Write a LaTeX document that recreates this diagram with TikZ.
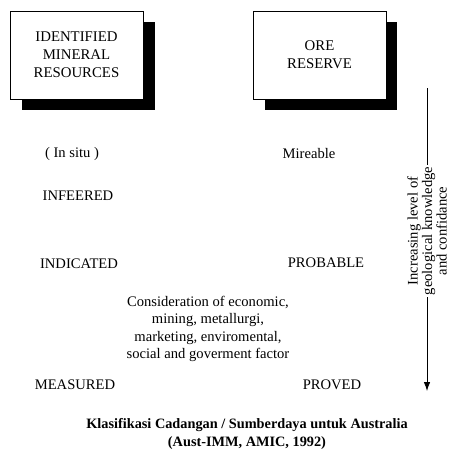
\documentclass[tikz,border=0pt]{standalone}
\usepackage{fontspec}
\setmainfont{Liberation Serif}
\usetikzlibrary{arrows.meta}
\begin{document}
\begin{tikzpicture}[x=1pt,y=-1pt,
  lbl/.style={font=\fontsize{14.6}{15}\selectfont, inner sep=0pt, align=center},
  boxtext/.style={font=\fontsize{14.8}{18}\selectfont, align=center},
  conf/.style={font=\fontsize{14.6}{14.5}\selectfont, align=center, rotate=90, fill=white, inner sep=1.5pt},
  ttl/.style={font=\bfseries\fontsize{14.3}{18}\selectfont, align=center, inner sep=0pt}]
\useasboundingbox (0,0) rectangle (449,450);
% left box
\fill (22,22) rectangle (155,110);
\draw[fill=white, line width=0.7pt] (10,11) rectangle (143,99);
\node[boxtext] (idm) at (76.5,55) {IDENTIFIED\\MINERAL\\RESOURCES};
% right box
\fill (265,22) rectangle (397,110);
\draw[fill=white, line width=0.7pt] (253,11) rectangle (386,99);
\node[boxtext] (ore) at (319.5,55) {ORE\\RESERVE};
% labels
\node[lbl] (insitu) at (72,154) {( In situ )};
\node[lbl] (mine) at (309,154) {Mireable};
\node[lbl] (inf) at (78,196) {INFEERED};
\node[lbl] (ind) at (79,264) {INDICATED};
\node[lbl] (prob) at (326,263) {PROBABLE};
\node[lbl, font=\fontsize{14.6}{17.3}\selectfont] (cons) at (208,329) {Consideration of economic,\\mining, metallurgi,\\marketing, enviromental,\\social and goverment factor};
\node[lbl] (meas) at (75,385) {MEASURED};
\node[lbl] (prov) at (332,385) {PROVED};
% arrow
\coordinate (atop) at (427,88);
\coordinate (abot) at (427,391);
\draw[line width=0.8pt, -{Latex[length=9pt,width=6.5pt]}] (atop) -- (abot);
\node[conf] (know) at (427,231) {Increasing level of\\geological knowledge\\and confidance};
% title
\node[ttl] (title) at (247,434) {Klasifikasi Cadangan / Sumberdaya untuk Australia\\(Aust-IMM, AMIC, 1992)};
\end{tikzpicture}
\end{document}
